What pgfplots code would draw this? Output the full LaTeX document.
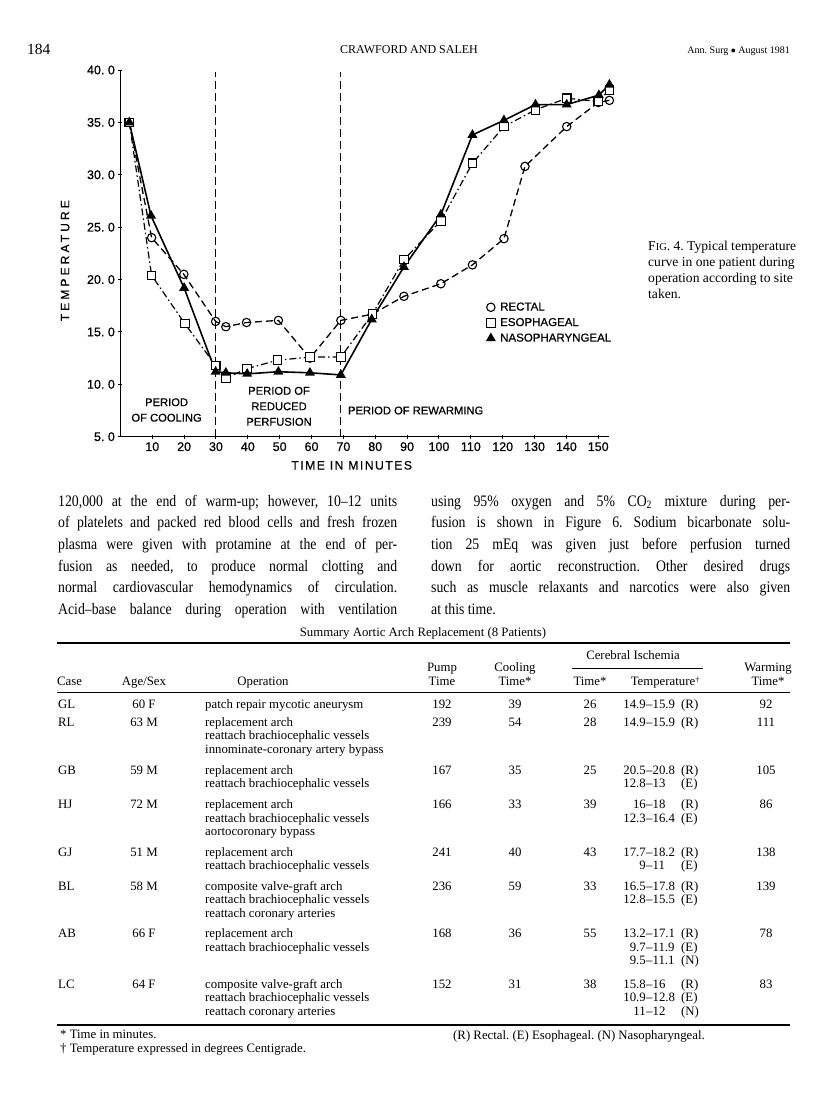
\documentclass[border=0pt]{standalone}
\usepackage{fontspec}
\setmainfont{Liberation Serif}
\newfontfamily\bodyserif[Ligatures=TeX,FakeStretch=0.86]{Liberation Serif}
\newfontfamily\chartfont[FakeBold=0.6]{Liberation Sans}
\newfontfamily\chartwide[LetterSpace=26,FakeBold=0.6]{Liberation Sans}
\newfontfamily\chartmid[LetterSpace=12,FakeBold=0.6]{Liberation Sans}
\usepackage{pgfplots}
\pgfplotsset{compat=1.18}
\frenchspacing

\newcommand\tabfont{\fontsize{12.8}{13.6}\selectfont}
\newcommand\bodyfont{\bodyserif\fontsize{16}{21.7}\selectfont}
\newcommand\capfont{\fontsize{13.6}{16}\selectfont}
\newcommand\lblfont{\chartfont\fontsize{11.2}{15.5}\selectfont}
% text at page position (x, y from top), in px = pt
\newcommand\T[4][base west]{\node[anchor=#1,inner sep=0pt,font=\tabfont] at (#2pt,-#3pt) {#4};}
% temperature range, dash aligned
\newcommand\Tp[4]{%
  \node[anchor=base east,inner sep=0pt,font=\tabfont] at (646pt,-#1pt) {#2};
  \node[anchor=base west,inner sep=0pt,font=\tabfont] at (646pt,-#1pt) {--#3};
  \node[anchor=base west,inner sep=0pt,font=\tabfont] at (681pt,-#1pt) {(#4)};}
\newcommand\dg{\raisebox{3pt}{\fontsize{8}{8}\selectfont\textdagger}}
\newcommand\C[3]{\node[anchor=base west,inner sep=0pt,font=\capfont] at (#1pt,-#2pt) {#3};}

\begin{document}
\begin{tikzpicture}
\fill[white] (0pt,0pt) rectangle (816pt,-1109pt);
\path[use as bounding box] (0pt,0pt) rectangle (816pt,-1109pt);

% running head
\node[anchor=base west,inner sep=0pt,font=\fontsize{15.5}{16}\selectfont] at (27pt,-54pt) {184};
\node[anchor=base,inner sep=0pt,font=\fontsize{12}{14}\selectfont] at (409pt,-53pt) {CRAWFORD AND SALEH};
\node[anchor=base east,inner sep=0pt,font=\fontsize{10}{12}\selectfont] at (790pt,-53pt) {Ann. Surg $\bullet$ August 1981};

\begin{axis}[
  at={(120.4pt,-436.7pt)}, anchor=south west,
  scale only axis, width=489pt, height=366.7pt,
  xmin=0, xmax=153.5, ymin=5, ymax=40,
  axis x line=bottom, axis y line=left,
  axis line style={-, line width=1.4pt},
  clip=false,
  xtick={10,20,...,150},
  xticklabels={10,20,30,40,50,60,70,80,90,100,110,120,130,140,150},
  ytick={5,10,...,40},
  yticklabels={{5.\ 0},{10.\ 0},{15.\ 0},{20.\ 0},{25.\ 0},{30.\ 0},{35.\ 0},{40.\ 0}},
  ticklabel style={font=\chartfont\fontsize{12.5}{13}\selectfont},
  major tick length=4pt,
  tick style={black, line width=1pt},
  ylabel={TEMPERATURE},
  ylabel style={font=\chartwide\fontsize{12}{12}\selectfont, at={(axis description cs:-0.113,0.48)}, anchor=center},
  xlabel={TIME IN MINUTES},
  xlabel style={font=\chartmid\fontsize{12.2}{13}\selectfont, at={(axis description cs:0.473,-0.078)}, anchor=center},
  legend style={at={(0.748,0.372)}, anchor=north west, draw=none, fill=none,
    font=\chartfont\fontsize{11.5}{12}\selectfont, row sep=2pt,
    cells={anchor=west}, inner sep=0pt},
  legend image code/.code={\draw[#1] plot[only marks] coordinates {(0.13cm,0cm)}; \path (0cm,0cm) (0.36cm,0cm);},
]
% period boundaries
\addplot[black, line width=1.3pt, dash pattern=on 8pt off 4pt, forget plot] coordinates {(29.9,5) (29.9,39.8)};
\addplot[black, line width=1.3pt, dash pattern=on 8pt off 4pt, forget plot] coordinates {(69.2,5) (69.2,39.8)};

% rectal
\addplot[black, line width=1.3pt, dash pattern=on 7pt off 4pt,
  mark=o, mark size=4.2pt, mark options={solid, fill=white, line width=1.1pt}] coordinates {
  (2.8,35.0) (9.8,24.0) (19.9,20.5) (29.9,16.0) (33.1,15.5) (39.6,15.9)
  (49.6,16.1) (59.5,12.5) (69.2,16.1) (79.1,16.7) (89.0,18.4) (100.6,19.6)
  (110.5,21.4) (120.4,23.9) (127.0,30.8) (140.1,34.6) (150.0,36.9) (153.5,37.1)};
% esophageal
\addplot[black, line width=1.2pt, dash pattern=on 7pt off 3pt on 1.5pt off 3pt,
  mark=square*, mark size=4.3pt, mark options={solid, fill=white, line width=1.1pt}] coordinates {
  (2.8,35.0) (9.8,20.4) (20.2,15.8) (29.9,11.8) (33.1,10.6) (39.8,11.5)
  (49.3,12.3) (59.5,12.6) (69.2,12.6) (79.1,16.7) (89.0,21.9) (100.6,25.6)
  (110.5,31.1) (120.4,34.6) (130.3,36.2) (140.1,37.3) (150.0,37.0) (153.5,38.1)};
% nasopharyngeal
\addplot[black, line width=1.6pt, mark=triangle*, mark size=4.2pt,
  mark options={solid, fill=black}] coordinates {
  (2.8,35.0) (9.6,26.1) (20.0,19.2) (29.9,11.2) (33.1,11.1) (39.8,11.0)
  (49.6,11.2) (59.5,11.1) (69.2,10.9) (78.9,16.2) (89.0,21.2) (100.6,26.2)
  (110.5,33.8) (120.4,35.2) (130.3,36.7) (140.1,36.7) (150.2,37.6) (153.5,38.6)};
\legend{RECTAL, ESOPHAGEAL, NASOPHARYNGEAL}

\node[font=\lblfont, align=center] at (axis cs:14.5,7.55) {PERIOD\\OF COOLING};
\node[font=\lblfont, align=center] at (axis cs:49.8,7.9) {PERIOD OF\\REDUCED\\PERFUSION};
\node[font=\lblfont, anchor=west, inner sep=0pt] at (axis cs:71.4,7.5) {PERIOD OF REWARMING};
\end{axis}

% figure legend
\C{648}{250}{F{\fontsize{10.5}{10}\selectfont IG}. 4. Typical temperature}
\C{648}{266}{curve in one patient during}
\C{648}{282}{operation according to site}
\C{648}{298}{taken.}

% body text
\begin{scope}[every node/.style={anchor=base west,inner sep=0pt,font=\bodyfont}]
\node at (58pt,-506pt)   {\makebox[339pt][s]{120,000 at the end of warm-up; however, 10--12 units}};
\node at (58pt,-527.7pt) {\makebox[339pt][s]{of platelets and packed red blood cells and fresh frozen}};
\node at (58pt,-549.4pt) {\makebox[339pt][s]{plasma were given with protamine at the end of per-}};
\node at (58pt,-571.1pt) {\makebox[339pt][s]{fusion as needed, to produce normal clotting and}};
\node at (58pt,-592.8pt) {\makebox[339pt][s]{normal cardiovascular hemodynamics of circulation.}};
\node at (58pt,-614.5pt) {\makebox[339pt][s]{Acid--base balance during operation with ventilation}};
\node at (431pt,-506pt)   {\makebox[359pt][s]{using 95\% oxygen and 5\% CO\textsubscript{2} mixture during per-}};
\node at (431pt,-527.7pt) {\makebox[359pt][s]{fusion is shown in Figure 6. Sodium bicarbonate solu-}};
\node at (431pt,-549.4pt) {\makebox[359pt][s]{tion 25 mEq was given just before perfusion turned}};
\node at (431pt,-571.1pt) {\makebox[359pt][s]{down for aortic reconstruction. Other desired drugs}};
\node at (431pt,-592.8pt) {\makebox[359pt][s]{such as muscle relaxants and narcotics were also given}};
\node at (431pt,-614.5pt) {at this time.};
\end{scope}

% table
\T[base]{423}{636}{Summary Aortic Arch Replacement (8 Patients)}
\draw[line width=1.3pt] (57pt,-643pt) -- (790pt,-643pt);
\T[base]{633}{659}{Cerebral Ischemia}
\draw[line width=0.8pt] (572pt,-668pt) -- (703pt,-668pt);
\T[base]{442}{671}{Pump}   \T[base]{442}{685}{Time}
\T[base]{515}{671}{Cooling}\T[base]{515}{685}{Time*}
\T[base]{768}{671}{Warming}\T[base]{768}{685}{Time*}
\T{57}{685}{Case}
\T[base]{144}{685}{Age/Sex}
\T[base]{263}{685}{Operation}
\T[base]{590}{685}{Time*}
\T[base]{665}{685}{Temperature\dg}
\draw[line width=0.9pt] (57pt,-692pt) -- (790pt,-692pt);

\T{58}{708}{GL}\T[base]{144}{708}{60 F}\T{205}{708}{patch repair mycotic aneurysm}
\T[base]{442}{708}{192}\T[base]{515}{708}{39}\T[base]{590}{708}{26}\Tp{708}{14.9}{15.9}{R}\T[base]{766}{708}{92}

\T{58}{726}{RL}\T[base]{144}{726}{63 M}\T{205}{726}{replacement arch}
\T{205}{739.6}{reattach brachiocephalic vessels}\T{205}{753.2}{innominate-coronary artery bypass}
\T[base]{442}{726}{239}\T[base]{515}{726}{54}\T[base]{590}{726}{28}\Tp{726}{14.9}{15.9}{R}\T[base]{766}{726}{111}

\T{58}{774}{GB}\T[base]{144}{774}{59 M}\T{205}{774}{replacement arch}
\T{205}{787.6}{reattach brachiocephalic vessels}
\T[base]{442}{774}{167}\T[base]{515}{774}{35}\T[base]{590}{774}{25}\Tp{774}{20.5}{20.8}{R}\Tp{787.6}{12.8}{13}{E}\T[base]{766}{774}{105}

\T{58}{808.5}{HJ}\T[base]{144}{808.5}{72 M}\T{205}{808.5}{replacement arch}
\T{205}{822.1}{reattach brachiocephalic vessels}\T{205}{835.7}{aortocoronary bypass}
\T[base]{442}{808.5}{166}\T[base]{515}{808.5}{33}\T[base]{590}{808.5}{39}\Tp{808.5}{16}{18}{R}\Tp{822.1}{12.3}{16.4}{E}\T[base]{766}{808.5}{86}

\T{58}{856}{GJ}\T[base]{144}{856}{51 M}\T{205}{856}{replacement arch}
\T{205}{869.6}{reattach brachiocephalic vessels}
\T[base]{442}{856}{241}\T[base]{515}{856}{40}\T[base]{590}{856}{43}\Tp{856}{17.7}{18.2}{R}\Tp{869.6}{9}{11}{E}\T[base]{766}{856}{138}

\T{58}{890}{BL}\T[base]{144}{890}{58 M}\T{205}{890}{composite valve-graft arch}
\T{205}{903.6}{reattach brachiocephalic vessels}\T{205}{917.2}{reattach coronary arteries}
\T[base]{442}{890}{236}\T[base]{515}{890}{59}\T[base]{590}{890}{33}\Tp{890}{16.5}{17.8}{R}\Tp{903.6}{12.8}{15.5}{E}\T[base]{766}{890}{139}

\T{58}{937.5}{AB}\T[base]{144}{937.5}{66 F}\T{205}{937.5}{replacement arch}
\T{205}{951.1}{reattach brachiocephalic vessels}
\T[base]{442}{937.5}{168}\T[base]{515}{937.5}{36}\T[base]{590}{937.5}{55}\Tp{937.5}{13.2}{17.1}{R}\Tp{951.1}{9.7}{11.9}{E}\Tp{964.7}{9.5}{11.1}{N}\T[base]{766}{937.5}{78}

\T{58}{988}{LC}\T[base]{144}{988}{64 F}\T{205}{988}{composite valve-graft arch}
\T{205}{1001.6}{reattach brachiocephalic vessels}\T{205}{1015.2}{reattach coronary arteries}
\T[base]{442}{988}{152}\T[base]{515}{988}{31}\T[base]{590}{988}{38}\Tp{988}{15.8}{16}{R}\Tp{1001.6}{10.9}{12.8}{E}\Tp{1015.2}{11}{12}{N}\T[base]{766}{988}{83}

\draw[line width=1.3pt] (57pt,-1025pt) -- (790pt,-1025pt);
\T{60}{1038}{* Time in minutes.}
\T{60}{1052}{\textdagger\ Temperature expressed in degrees Centigrade.}
\T{453}{1039}{(R) Rectal. (E) Esophageal. (N) Nasopharyngeal.}
\end{tikzpicture}
\end{document}
